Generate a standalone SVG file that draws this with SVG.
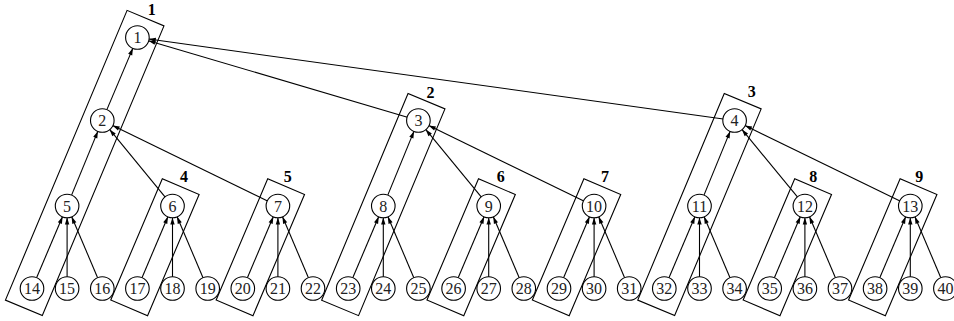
<svg xmlns="http://www.w3.org/2000/svg" width="954" height="321" viewBox="0 0 954 321">
<style>
.bg{fill:#ffffff}
.box{fill:none;stroke:#000;stroke-width:1.1}
.blabel{font-family:"Liberation Serif",serif;font-size:16px;font-weight:bold;fill:#000;text-anchor:middle}
.node circle{fill:#fff;stroke:#000;stroke-width:1.1}
.node text{font-family:"Liberation Serif",serif;font-size:16px;fill:#222;text-anchor:middle}
.edge{stroke:#000;stroke-width:1.1;fill:none;marker-end:url(#ah)}
</style>
<defs>
<marker id="ah" viewBox="-8 -3 9 6" refX="0" refY="0" markerWidth="9" markerHeight="6" markerUnits="userSpaceOnUse" orient="auto">
<path d="M0,0 L-7,-2.2 L-7,2.2 z" fill="#000"/>
</marker>
</defs>
<rect class="bg" x="0" y="0" width="954" height="321"/>
<g id="clusters">
<g id="c1"><rect class="box" transform="translate(137.4,37.5) rotate(22.78)" x="-20" y="-21" width="40" height="314.2"/><text class="blabel" x="151.7" y="15">1</text></g>
<g id="c2"><rect class="box" transform="translate(418.4,120.5) rotate(22.68)" x="-20" y="-21" width="40" height="224.1"/><text class="blabel" x="430.5" y="98">2</text></g>
<g id="c3"><rect class="box" transform="translate(734.6,120.5) rotate(22.71)" x="-20" y="-21" width="40" height="224.1"/><text class="blabel" x="751.7" y="97">3</text></g>
<g id="c4"><rect class="box" transform="translate(172.5,206) rotate(23.05)" x="-20" y="-21" width="40" height="131.7"/><text class="blabel" x="184" y="182">4</text></g>
<g id="c5"><rect class="box" transform="translate(277.9,206) rotate(23.05)" x="-20" y="-21" width="40" height="131.7"/><text class="blabel" x="287.7" y="182">5</text></g>
<g id="c6"><rect class="box" transform="translate(488.7,206) rotate(23.05)" x="-20" y="-21" width="40" height="131.7"/><text class="blabel" x="500.7" y="182">6</text></g>
<g id="c7"><rect class="box" transform="translate(594.1,206) rotate(23.05)" x="-20" y="-21" width="40" height="131.7"/><text class="blabel" x="605" y="182">7</text></g>
<g id="c8"><rect class="box" transform="translate(804.9,206) rotate(23.05)" x="-20" y="-21" width="40" height="131.7"/><text class="blabel" x="813.3" y="182">8</text></g>
<g id="c9"><rect class="box" transform="translate(910.3,206) rotate(23.05)" x="-20" y="-21" width="40" height="131.7"/><text class="blabel" x="919.3" y="182">9</text></g>
</g>
<g id="connectors">
<line class="edge" x1="106.78" y1="109.91" x2="132.92" y2="48.09"/>
<line class="edge" x1="407.37" y1="117.24" x2="148.43" y2="40.76"/>
<line class="edge" x1="723.21" y1="118.92" x2="148.79" y2="39.08"/>
<line class="edge" x1="71.48" y1="195.37" x2="97.92" y2="131.13"/>
<line class="edge" x1="165.2" y1="197.11" x2="109.6" y2="129.39"/>
<line class="edge" x1="267.56" y1="200.97" x2="112.64" y2="125.53"/>
<line class="edge" x1="387.68" y1="195.37" x2="414.02" y2="131.13"/>
<line class="edge" x1="481.4" y1="197.11" x2="425.7" y2="129.39"/>
<line class="edge" x1="583.76" y1="200.97" x2="428.74" y2="125.53"/>
<line class="edge" x1="703.88" y1="195.37" x2="730.22" y2="131.13"/>
<line class="edge" x1="797.6" y1="197.11" x2="741.9" y2="129.39"/>
<line class="edge" x1="899.96" y1="200.97" x2="744.94" y2="125.53"/>
<line class="edge" x1="36.48" y1="277.92" x2="62.59" y2="216.58"/>
<line class="edge" x1="67.1" y1="277" x2="67.1" y2="217.5"/>
<line class="edge" x1="97.72" y1="277.92" x2="71.61" y2="216.58"/>
<line class="edge" x1="141.88" y1="277.92" x2="167.99" y2="216.58"/>
<line class="edge" x1="172.5" y1="277" x2="172.5" y2="217.5"/>
<line class="edge" x1="203.12" y1="277.92" x2="177.01" y2="216.58"/>
<line class="edge" x1="247.28" y1="277.92" x2="273.39" y2="216.58"/>
<line class="edge" x1="277.9" y1="277" x2="277.9" y2="217.5"/>
<line class="edge" x1="308.52" y1="277.92" x2="282.41" y2="216.58"/>
<line class="edge" x1="352.68" y1="277.92" x2="378.79" y2="216.58"/>
<line class="edge" x1="383.3" y1="277" x2="383.3" y2="217.5"/>
<line class="edge" x1="413.92" y1="277.92" x2="387.81" y2="216.58"/>
<line class="edge" x1="458.08" y1="277.92" x2="484.19" y2="216.58"/>
<line class="edge" x1="488.7" y1="277" x2="488.7" y2="217.5"/>
<line class="edge" x1="519.32" y1="277.92" x2="493.21" y2="216.58"/>
<line class="edge" x1="563.48" y1="277.92" x2="589.59" y2="216.58"/>
<line class="edge" x1="594.1" y1="277" x2="594.1" y2="217.5"/>
<line class="edge" x1="624.72" y1="277.92" x2="598.61" y2="216.58"/>
<line class="edge" x1="668.88" y1="277.92" x2="694.99" y2="216.58"/>
<line class="edge" x1="699.5" y1="277" x2="699.5" y2="217.5"/>
<line class="edge" x1="730.12" y1="277.92" x2="704.01" y2="216.58"/>
<line class="edge" x1="774.28" y1="277.92" x2="800.39" y2="216.58"/>
<line class="edge" x1="804.9" y1="277" x2="804.9" y2="217.5"/>
<line class="edge" x1="835.52" y1="277.92" x2="809.41" y2="216.58"/>
<line class="edge" x1="879.68" y1="277.92" x2="905.79" y2="216.58"/>
<line class="edge" x1="910.3" y1="277" x2="910.3" y2="217.5"/>
<line class="edge" x1="940.92" y1="277.92" x2="914.81" y2="216.58"/>
</g>
<g id="nodes">
<g id="n1" class="node"><circle cx="137.4" cy="37.5" r="11.8"/><text x="137.4" y="43">1</text></g>
<g id="n2" class="node"><circle cx="102.3" cy="120.5" r="11.8"/><text x="102.3" y="126">2</text></g>
<g id="n3" class="node"><circle cx="418.4" cy="120.5" r="11.8"/><text x="418.4" y="126">3</text></g>
<g id="n4" class="node"><circle cx="734.6" cy="120.5" r="11.8"/><text x="734.6" y="126">4</text></g>
<g id="n5" class="node"><circle cx="67.1" cy="206" r="11.8"/><text x="67.1" y="211.5">5</text></g>
<g id="n6" class="node"><circle cx="172.5" cy="206" r="11.8"/><text x="172.5" y="211.5">6</text></g>
<g id="n7" class="node"><circle cx="277.9" cy="206" r="11.8"/><text x="277.9" y="211.5">7</text></g>
<g id="n8" class="node"><circle cx="383.3" cy="206" r="11.8"/><text x="383.3" y="211.5">8</text></g>
<g id="n9" class="node"><circle cx="488.7" cy="206" r="11.8"/><text x="488.7" y="211.5">9</text></g>
<g id="n10" class="node"><circle cx="594.1" cy="206" r="11.8"/><text x="594.1" y="211.5">10</text></g>
<g id="n11" class="node"><circle cx="699.5" cy="206" r="11.8"/><text x="699.5" y="211.5">11</text></g>
<g id="n12" class="node"><circle cx="804.9" cy="206" r="11.8"/><text x="804.9" y="211.5">12</text></g>
<g id="n13" class="node"><circle cx="910.3" cy="206" r="11.8"/><text x="910.3" y="211.5">13</text></g>
<g id="n14" class="node"><circle cx="32" cy="288.5" r="11.8"/><text x="32" y="294">14</text></g>
<g id="n15" class="node"><circle cx="67.1" cy="288.5" r="11.8"/><text x="67.1" y="294">15</text></g>
<g id="n16" class="node"><circle cx="102.3" cy="288.5" r="11.8"/><text x="102.3" y="294">16</text></g>
<g id="n17" class="node"><circle cx="137.4" cy="288.5" r="11.8"/><text x="137.4" y="294">17</text></g>
<g id="n18" class="node"><circle cx="172.5" cy="288.5" r="11.8"/><text x="172.5" y="294">18</text></g>
<g id="n19" class="node"><circle cx="207.7" cy="288.5" r="11.8"/><text x="207.7" y="294">19</text></g>
<g id="n20" class="node"><circle cx="242.8" cy="288.5" r="11.8"/><text x="242.8" y="294">20</text></g>
<g id="n21" class="node"><circle cx="277.9" cy="288.5" r="11.8"/><text x="277.9" y="294">21</text></g>
<g id="n22" class="node"><circle cx="313" cy="288.5" r="11.8"/><text x="313" y="294">22</text></g>
<g id="n23" class="node"><circle cx="348.2" cy="288.5" r="11.8"/><text x="348.2" y="294">23</text></g>
<g id="n24" class="node"><circle cx="383.3" cy="288.5" r="11.8"/><text x="383.3" y="294">24</text></g>
<g id="n25" class="node"><circle cx="418.4" cy="288.5" r="11.8"/><text x="418.4" y="294">25</text></g>
<g id="n26" class="node"><circle cx="453.6" cy="288.5" r="11.8"/><text x="453.6" y="294">26</text></g>
<g id="n27" class="node"><circle cx="488.7" cy="288.5" r="11.8"/><text x="488.7" y="294">27</text></g>
<g id="n28" class="node"><circle cx="523.8" cy="288.5" r="11.8"/><text x="523.8" y="294">28</text></g>
<g id="n29" class="node"><circle cx="559" cy="288.5" r="11.8"/><text x="559" y="294">29</text></g>
<g id="n30" class="node"><circle cx="594.1" cy="288.5" r="11.8"/><text x="594.1" y="294">30</text></g>
<g id="n31" class="node"><circle cx="629.2" cy="288.5" r="11.8"/><text x="629.2" y="294">31</text></g>
<g id="n32" class="node"><circle cx="664.3" cy="288.5" r="11.8"/><text x="664.3" y="294">32</text></g>
<g id="n33" class="node"><circle cx="699.5" cy="288.5" r="11.8"/><text x="699.5" y="294">33</text></g>
<g id="n34" class="node"><circle cx="734.6" cy="288.5" r="11.8"/><text x="734.6" y="294">34</text></g>
<g id="n35" class="node"><circle cx="769.7" cy="288.5" r="11.8"/><text x="769.7" y="294">35</text></g>
<g id="n36" class="node"><circle cx="804.9" cy="288.5" r="11.8"/><text x="804.9" y="294">36</text></g>
<g id="n37" class="node"><circle cx="840" cy="288.5" r="11.8"/><text x="840" y="294">37</text></g>
<g id="n38" class="node"><circle cx="875.1" cy="288.5" r="11.8"/><text x="875.1" y="294">38</text></g>
<g id="n39" class="node"><circle cx="910.3" cy="288.5" r="11.8"/><text x="910.3" y="294">39</text></g>
<g id="n40" class="node"><circle cx="945.4" cy="288.5" r="11.8"/><text x="945.4" y="294">40</text></g>
</g>
</svg>
